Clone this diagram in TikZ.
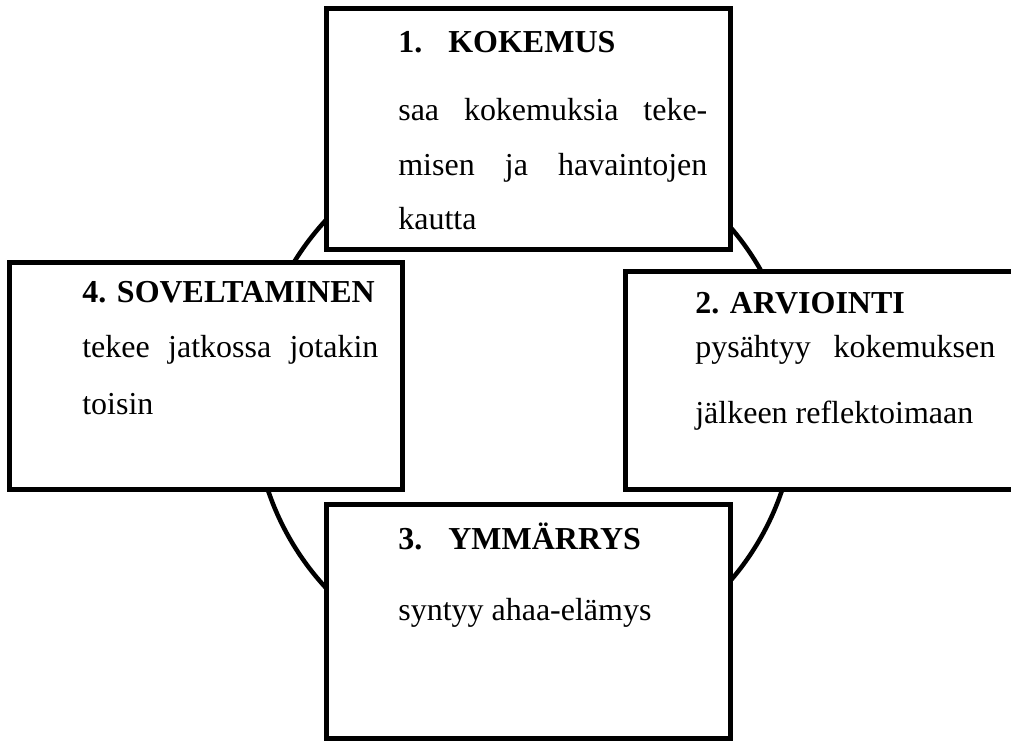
\documentclass[tikz,border=0pt]{standalone}
\usepackage{fontspec}
\setmainfont{Liberation Serif}
\usetikzlibrary{positioning}
\newcommand{\phasesize}{\fontsize{18.2}{22}\selectfont}
\tikzset{%
    phase/.style = {
        rectangle, draw=black, fill=white, line width=1mm,
        inner sep=0pt, outer sep=0pt
    },
    phaseTitle/.style = {anchor=base west, inner sep=0pt, font=\phasesize\bfseries},
    phaseText/.style = {anchor=base west, inner sep=0pt, font=\phasesize},
}

\begin{document}
\begin{tikzpicture}[x=0.2mm, y=-0.2mm]
        \useasboundingbox (0,0) rectangle (1011,742);
        \clip (0,0) rectangle (1011,742);

        % Cycle behind the boxes
        \node (cycle) [circle, draw, line width=0.9mm, minimum size=108.4mm, inner sep=0pt]
            at (525,404) {};

        % Boxes
        \node (kokemus)      [phase, minimum width=80.6mm, minimum height=48.2mm] at (528.5,129.5) {};
        \node (soveltaminen) [phase, minimum width=78.4mm, minimum height=45.4mm] at (206,376.5) {};
        \node (arviointi)    [phase, minimum width=81mm, minimum height=43.6mm] at (827.5,381) {};
        \node (ymmarrys)     [phase, minimum width=80.6mm, minimum height=46.8mm] at (528.5,622) {};

        % Texts of phase 1
        \node (kokemusHead)  [phaseTitle, xshift=14.2mm, yshift=-8.8mm] at (kokemus.north west)
                                {\makebox[10mm][l]{1.}KOKEMUS};
        \node (kokemusLine1) [phaseText, xshift=14.2mm, yshift=-22.4mm] at (kokemus.north west)
                                {\makebox[61.8mm][s]{saa kokemuksia teke-}};
        \node (kokemusLine2) [phaseText, xshift=14.2mm, yshift=-33.4mm] at (kokemus.north west)
                                {\makebox[61.8mm][s]{misen ja havaintojen}};
        \node (kokemusLine3) [phaseText, xshift=14.2mm, yshift=-44.2mm] at (kokemus.north west)
                                {kautta};

        % Texts of phase 2
        \node (arviointiHead)  [phaseTitle, xshift=14mm, yshift=-8.4mm] at (arviointi.north west)
                                {2. ARVIOINTI};
        \node (arviointiLine1) [phaseText, xshift=14mm, yshift=-17.2mm] at (arviointi.north west)
                                {\makebox[60mm][s]{pysähtyy kokemuksen}};
        \node (arviointiLine2) [phaseText, xshift=14mm, yshift=-30.4mm] at (arviointi.north west)
                                {jälkeen reflektoimaan};

        % Texts of phase 3
        \node (ymmarrysHead)  [phaseTitle, xshift=14.2mm, yshift=-9mm] at (ymmarrys.north west)
                                {\makebox[10mm][l]{3.}YMMÄRRYS};
        \node (ymmarrysLine1) [phaseText, xshift=14.2mm, yshift=-23.2mm] at (ymmarrys.north west)
                                {syntyy ahaa-elämys};

        % Texts of phase 4
        \node (soveltaminenHead)  [phaseTitle, xshift=14.4mm, yshift=-8mm] at (soveltaminen.north west)
                                {4. SOVELTAMINEN};
        \node (soveltaminenLine1) [phaseText, xshift=14.4mm, yshift=-19mm] at (soveltaminen.north west)
                                {\makebox[59.2mm][s]{tekee jatkossa jotakin}};
        \node (soveltaminenLine2) [phaseText, xshift=14.4mm, yshift=-30.4mm] at (soveltaminen.north west)
                                {toisin};
    \end{tikzpicture}
\end{document}
